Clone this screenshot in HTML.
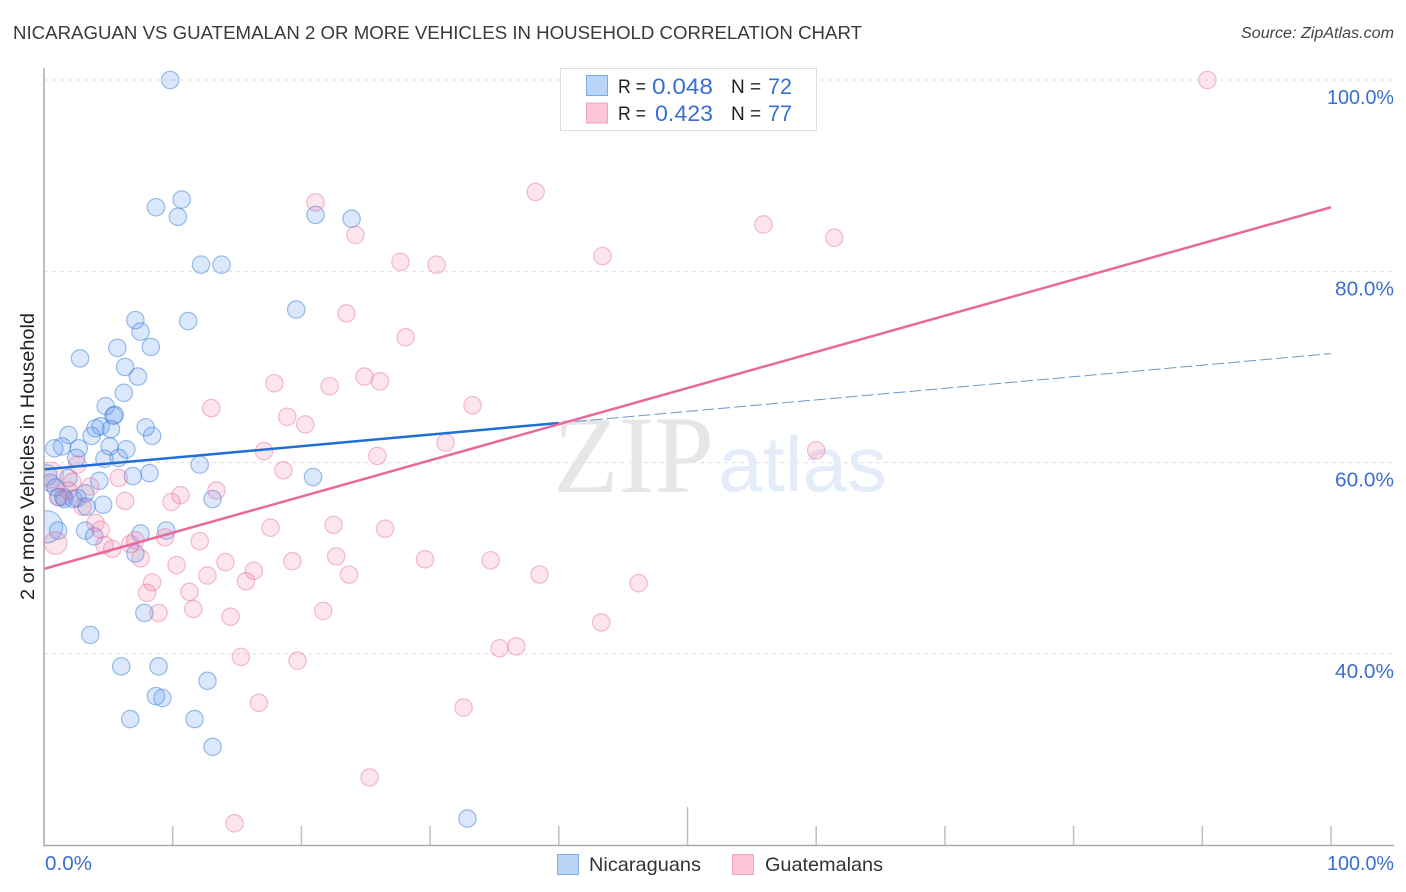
<!DOCTYPE html>
<html lang="en">
<head>
<meta charset="utf-8">
<title>Nicaraguan vs Guatemalan 2 or more vehicles correlation chart</title>
<style>
html,body{margin:0;padding:0;background:#fff;width:1406px;height:892px;overflow:hidden}
svg{display:block;font-family:"Liberation Sans",sans-serif}
</style>
</head>
<body>
<svg id="chart" xmlns="http://www.w3.org/2000/svg" width="1406" height="892" viewBox="0 0 1406 892">
  <defs><clipPath id="plot-clip"><rect x="44" y="60" width="1360" height="786"/></clipPath></defs>
  <rect width="1406" height="892" fill="#fff"/>
  <text x="13" y="39" font-size="18.5" fill="#3a3a3a" textLength="849" lengthAdjust="spacingAndGlyphs">NICARAGUAN VS GUATEMALAN 2 OR MORE VEHICLES IN HOUSEHOLD CORRELATION CHART</text>
  <text x="1394" y="38" font-size="15.500" font-style="italic" fill="#444" text-anchor="end" textLength="153" lengthAdjust="spacingAndGlyphs">Source: ZipAtlas.com</text>
  <text transform="translate(34,456.500) rotate(-90)" font-size="19" fill="#222" text-anchor="middle" textLength="287" lengthAdjust="spacingAndGlyphs">2 or more Vehicles in Household</text>
  <g id="grid"></g>
  <g>
    <text x="553" y="492" font-family="'Liberation Serif',serif" font-size="110" fill="#e6e6e6" textLength="161" lengthAdjust="spacingAndGlyphs">ZIP</text>
    <text x="718" y="491" font-size="78" fill="#e4ecf9" textLength="169" lengthAdjust="spacingAndGlyphs">atlas</text>
  </g>
  <g id="points" clip-path="url(#plot-clip)"></g>
  <g id="trends"></g>
  <g id="axes"></g>
  <g id="labels"></g>

  <g>
    <rect x="560.500" y="68.500" width="256" height="62" fill="#fff" stroke="#ddd" stroke-width="1"/>
    <rect x="586.500" y="75.500" width="21" height="20" fill="#b9d5f8" stroke="#7fabe3"/>
    <rect x="586.500" y="103" width="21" height="20" fill="#fcc6d8" stroke="#f3a3bd"/>
    <g font-size="19" fill="#222">
      <text x="618" y="93" textLength="28" lengthAdjust="spacingAndGlyphs">R =</text>
      <text x="652" y="94" font-size="22" fill="#3a6fd0" textLength="61" lengthAdjust="spacingAndGlyphs">0.048</text>
      <text x="731" y="93">N =</text>
      <text x="768" y="94" font-size="22" fill="#3a6fd0" textLength="24" lengthAdjust="spacingAndGlyphs">72</text>
      <text x="618" y="120" textLength="28" lengthAdjust="spacingAndGlyphs">R =</text>
      <text x="655" y="121" font-size="22" fill="#3a6fd0" textLength="58" lengthAdjust="spacingAndGlyphs">0.423</text>
      <text x="731" y="120">N =</text>
      <text x="768" y="121" font-size="22" fill="#3a6fd0" textLength="24" lengthAdjust="spacingAndGlyphs">77</text>
    </g>
  </g>

  <g>
    <rect x="557.500" y="854.500" width="21" height="20" fill="#b9d5f8" stroke="#7fabe3"/>
    <text x="589" y="871" font-size="19.500" fill="#333" textLength="112" lengthAdjust="spacingAndGlyphs">Nicaraguans</text>
    <rect x="732.500" y="854.500" width="21" height="20" fill="#fcc6d8" stroke="#f3a3bd"/>
    <text x="765" y="871" font-size="19.500" fill="#333" textLength="118" lengthAdjust="spacingAndGlyphs">Guatemalans</text>
  </g>
</svg>
<script>
const blueX = [9.8,10.7,8.7,10.4,21.1,23.9,12.2,13.8,19.6,7.1,11.2,7.5,8.3,5.7,2.8,6.3,7.3,6.2,4.8,5.5,5.4,4.4,4.0,5.2,3.7,1.9,7.9,8.4,1.4,0.8,2.7,5.1,6.4,4.7,5.8,2.5,12.1,4.3,6.9,8.2,20.9,13.1,4.6,0.2,0.5,0.9,1.9,1.1,1.5,1.6,2.3,2.6,3.2,3.3,0.2,1.1,3.2,3.9,7.5,9.5,7.1,7.8,3.6,6.0,8.9,12.7,8.7,9.2,6.7,11.7,13.1,32.9];
const blueY = [100,87.5,86.7,85.7,85.9,85.5,80.7,80.7,76.0,74.9,74.8,73.7,72.1,72.0,70.9,70.0,69.0,67.3,65.9,65.0,64.9,63.8,63.6,63.5,62.8,62.9,63.7,62.8,61.7,61.5,61.5,61.7,61.4,60.4,60.5,60.5,59.8,58.1,58.6,58.9,58.5,56.2,55.6,58.7,57.9,57.4,58.4,56.4,56.4,56.2,56.2,56.3,56.8,55.4,53.3,52.9,52.9,52.3,52.6,52.9,50.5,44.3,42.0,38.7,38.7,37.2,35.6,35.4,33.2,33.2,30.3,22.8];
const pinkX = [90.4,38.2,21.1,55.9,61.4,24.2,43.4,27.7,30.5,23.5,28.1,24.9,26.1,17.9,22.2,13.0,33.3,18.9,20.3,31.2,17.1,60.0,25.9,18.6,5.8,13.4,10.6,9.9,2.6,3.6,2.2,3.0,4.0,4.4,4.7,5.3,6.7,7.1,7.5,9.4,6.3,12.1,10.3,14.1,12.7,16.3,15.7,8.4,8.0,11.3,11.6,8.9,14.5,15.3,0.9,17.6,22.5,26.5,19.3,22.7,23.7,29.6,34.7,38.5,46.2,21.7,43.3,35.4,36.7,19.7,32.6,16.7,25.3,14.8,0.5,1.9,1.2];
const pinkY = [100,88.3,87.2,84.9,83.5,83.8,81.6,81.0,80.7,75.6,73.1,69.0,68.5,68.3,68.0,65.7,66.0,64.8,64.0,62.1,61.2,61.3,60.7,59.2,58.4,57.1,56.6,55.9,59.8,57.5,58.0,55.4,53.7,53.0,51.4,51.0,51.5,51.9,50.0,52.2,56.0,51.8,49.3,49.6,48.2,48.7,47.6,47.5,46.4,46.5,44.7,44.3,43.9,39.7,51.6,53.2,53.5,53.1,49.7,50.2,48.3,49.9,49.8,48.3,47.4,44.5,43.3,40.6,40.8,39.3,34.4,34.9,27.1,22.3,58.7,57.1,56.4];
const blueWeightIndex = [43,54];
const blueWeightValue = [1.2,1.85];
const pinkWeightIndex = [54,74];
const pinkWeightValue = [1.3,1.5];
const blueTrendX = [0,40,100];
const blueTrendY = [59.3,64.15,71.4];
const pinkTrendX = [0,100];
const pinkTrendY = [48.9,86.7];
const yTicks = [40,60,80,100];
const yTickLabels = ["40.0%","60.0%","80.0%","100.0%"];
const xTicks = [10,20,30,40,50,60,70,80,90,100];
const xEndLabels = ["0.0%","100.0%"];

const NS = "http://www.w3.org/2000/svg";
const sx = v => 44 + v * 12.87;
const sy = v => 80 + (100 - v) * 9.567;
const R = 8.7;
function mk(tag, parent, attrs){
  const e = document.createElementNS(NS, tag);
  for (const k in attrs) e.setAttribute(k, attrs[k]);
  parent.appendChild(e);
  return e;
}
const grid = document.getElementById("grid");
const axes = document.getElementById("axes");
const labels = document.getElementById("labels");
const points = document.getElementById("points");
const trends = document.getElementById("trends");

yTicks.forEach((t, i) => {
  const l = mk("line", grid, {x1:44, x2:1393, y1:sy(t), y2:sy(t), stroke:"#e0e0e0", "stroke-width":1, "stroke-dasharray":"4 4"});
  
  
  const tx = mk("text", labels, {x:1394, y:sy(t)+24, "font-size":20, fill:"#3a6fd0", "text-anchor":"end", textLength:yTickLabels[i].length > 5 ? 67 : 59, lengthAdjust:"spacingAndGlyphs"});
  
  
  tx.textContent = yTickLabels[i];
});

const yAxis = mk("line", axes, {x1:44, x2:44, y1:68, y2:846, stroke:"#aaa", "stroke-width":1.5});


const xAxis = mk("line", axes, {x1:44, x2:1394, y1:845.5, y2:845.5, stroke:"#aaa", "stroke-width":1.5});


xTicks.forEach(t => {
  const top = t === 50 ? 807 : 826;
  const l = mk("line", axes, {x1:sx(t), x2:sx(t), y1:top, y2:845, stroke:"#c0c0c0", "stroke-width":1.5});
  
  
});
const x0 = mk("text", labels, {x:45, y:870, "font-size":20, fill:"#3a6fd0", textLength:47, lengthAdjust:"spacingAndGlyphs"});


x0.textContent = xEndLabels[0];
const x1 = mk("text", labels, {x:1394, y:870, "font-size":20, fill:"#3a6fd0", "text-anchor":"end", textLength:67, lengthAdjust:"spacingAndGlyphs"});


x1.textContent = xEndLabels[1];

function weightOf(i, idx, val){
  const k = idx.indexOf(i);
  return k < 0 ? 1 : val[k];
}
blueX.forEach((v, i) => {
  const c = mk("circle", points, {cx:sx(v), cy:sy(blueY[i]), r:R*weightOf(i, blueWeightIndex, blueWeightValue), fill:"rgba(90,150,235,0.22)", stroke:"rgba(60,125,220,0.5)", "stroke-width":1.2});
  
  
});
pinkX.forEach((v, i) => {
  const c = mk("circle", points, {cx:sx(v), cy:sy(pinkY[i]), r:R*weightOf(i, pinkWeightIndex, pinkWeightValue), fill:"rgba(240,110,155,0.18)", stroke:"rgba(232,100,150,0.42)", "stroke-width":1.2});
  
  
});

const bs = mk("line", trends, {x1:sx(blueTrendX[0]), y1:sy(blueTrendY[0]), x2:sx(blueTrendX[1]), y2:sy(blueTrendY[1]), stroke:"#1f6fd6", "stroke-width":2.5});


const bd = mk("line", trends, {x1:sx(blueTrendX[1]), y1:sy(blueTrendY[1]), x2:sx(blueTrendX[2]), y2:sy(blueTrendY[2]), stroke:"#6f98cc", "stroke-width":1, "stroke-dasharray":"12 4"});


const pl = mk("line", trends, {x1:sx(pinkTrendX[0]), y1:sy(pinkTrendY[0]), x2:sx(pinkTrendX[1]), y2:sy(pinkTrendY[1]), stroke:"#e8699b", "stroke-width":2.5});


</script>
</body>
</html>
